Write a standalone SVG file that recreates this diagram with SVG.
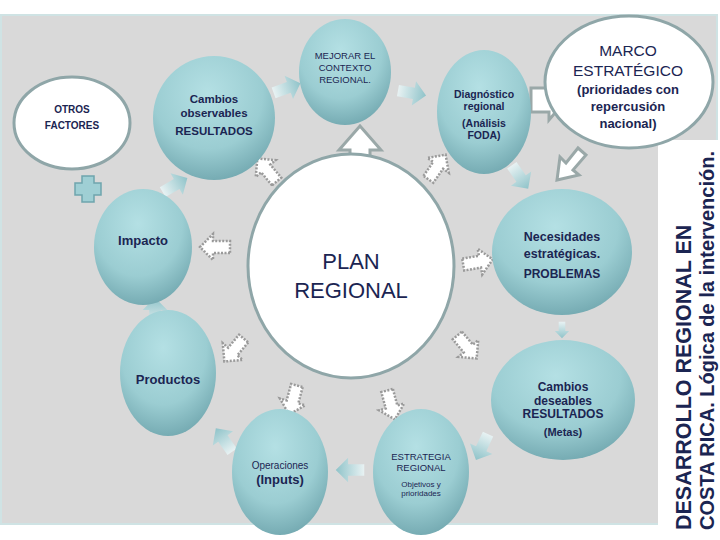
<svg xmlns="http://www.w3.org/2000/svg" width="720" height="540" viewBox="0 0 720 540">
<defs>
<radialGradient id="tg" cx="0.45" cy="0.3" r="0.75">
<stop offset="0" stop-color="#b4e0e4"/><stop offset="0.6" stop-color="#9bcdd2"/><stop offset="1" stop-color="#6fa5ad"/>
</radialGradient>
<linearGradient id="ag" x1="0" y1="0" x2="1" y2="0">
<stop offset="0" stop-color="#e8f2f3"/><stop offset="1" stop-color="#8fc3c9"/>
</linearGradient>
<path id="arr" d="M-15,-6 H2 V-13 L15,0 L2,13 V6 H-15 Z"/>
</defs>
<style>
.c{fill:url(#tg)}
.w{fill:#fff;stroke:#8fa6a8;stroke-width:3}
.da{fill:#fff;stroke:#9a9a9a;stroke-width:2.5;stroke-dasharray:2 1.5}
.ta{fill:url(#ag)}
.t{font-family:"Liberation Sans",Arial,sans-serif;fill:#1b2552;text-anchor:middle}
.b{font-weight:bold}
</style>
<rect x="0" y="0" width="720" height="540" fill="#fff"/>
<rect x="1" y="15" width="716" height="509" fill="#d9d9d9" stroke="#cfe3e4" stroke-width="2"/>
<rect x="658" y="140" width="62" height="400" fill="#fff"/>
<g id="connectors">
<use href="#arr" class="da" transform="translate(267,170) rotate(-130)"/>
<use href="#arr" class="da" transform="translate(437,167) rotate(-55)"/>
<use href="#arr" class="da" transform="translate(215,247) rotate(180)"/>
<use href="#arr" class="da" transform="translate(478,262) rotate(-10)"/>
<use href="#arr" class="da" transform="translate(234,350) rotate(130)"/>
<use href="#arr" class="da" transform="translate(467,347) rotate(50)"/>
<use href="#arr" class="da" transform="translate(293,400) rotate(105)"/>
<use href="#arr" class="da" transform="translate(391,405) rotate(75)"/>
<path d="M350,195 V150 H339 L360,126 L381,150 H370 V195 Z" fill="#fff" stroke="#9aa8a8" stroke-width="3"/>
<path d="M531,88 H549 V80 L566,100 L549,120 V112 H531 Z" fill="#fff" stroke="#9aa8a8" stroke-width="3"/>
<path d="M578,148 L566,163 L560,157 L557,180 L579,175 L573,170 L586,155 Z" fill="#fff" stroke="#9aa8a8" stroke-width="3"/>
<use href="#arr" class="ta" transform="translate(287,88) rotate(-20) scale(0.95)"/>
<use href="#arr" class="ta" transform="translate(412,93) rotate(10) scale(0.95)"/>
<use href="#arr" class="ta" transform="translate(520,177) rotate(55) scale(0.95)"/>
<use href="#arr" class="ta" transform="translate(562,330) rotate(90) scale(0.55)"/>
<use href="#arr" class="ta" transform="translate(482,447) rotate(115) scale(0.95)"/>
<use href="#arr" class="ta" transform="translate(350,470) rotate(180) scale(0.95)"/>
<use href="#arr" class="ta" transform="translate(224,440) rotate(-125) scale(0.95)"/>
<use href="#arr" class="ta" transform="translate(155,312) rotate(-90) scale(0.95)"/>
<use href="#arr" class="ta" transform="translate(175,185) rotate(-30) scale(0.95)"/>
<path d="M82,176 H94 V183 H101 V195 H94 V202 H82 V195 H75 V183 H82 Z" fill="#9fcfd4" stroke="#6fa5ad" stroke-width="1.5"/>
</g>
<g id="mejorar"><ellipse class="c" cx="345" cy="72" rx="46" ry="53"/>
<text class="t" font-size="9.5"><tspan x="345" y="59">MEJORAR EL</tspan><tspan x="345" y="71">CONTEXTO</tspan><tspan x="345" y="83">REGIONAL.</tspan></text></g>
<g id="otros"><ellipse class="w" cx="72" cy="123" rx="58" ry="46"/>
<text class="t b" font-size="10"><tspan x="72" y="113">OTROS</tspan><tspan x="72" y="129">FACTORES</tspan></text></g>
<g id="cambios-obs"><ellipse class="c" cx="214" cy="118" rx="61" ry="62"/>
<text class="t b" font-size="11.5"><tspan x="214" y="103">Cambios</tspan><tspan x="214" y="117">observables</tspan><tspan x="214" y="135">RESULTADOS</tspan></text></g>
<g id="diagnostico"><ellipse class="c" cx="484" cy="112" rx="47" ry="62"/>
<text class="t b" font-size="10.5"><tspan x="484" y="98">Diagnóstico</tspan><tspan x="484" y="110">regional</tspan><tspan x="484" y="127">(Análisis</tspan><tspan x="484" y="139">FODA)</tspan></text></g>
<g id="marco"><ellipse class="w" cx="629" cy="82" rx="84" ry="66"/>
<text class="t" font-size="15.5"><tspan x="628" y="56">MARCO</tspan><tspan x="628" y="76">ESTRATÉGICO</tspan></text>
<text class="t b" font-size="13"><tspan x="628" y="94">(prioridades con</tspan><tspan x="628" y="111">repercusión</tspan><tspan x="628" y="128">nacional)</tspan></text></g>
<g id="impacto"><ellipse class="c" cx="143" cy="247" rx="49" ry="58"/>
<text class="t b" font-size="13" x="143" y="245">Impacto</text></g>
<g id="plan"><ellipse class="w" cx="351" cy="266" rx="103" ry="112"/>
<text class="t" font-size="22"><tspan x="351" y="269">PLAN</tspan><tspan x="351" y="298">REGIONAL</tspan></text></g>
<g id="necesidades"><ellipse class="c" cx="562" cy="252" rx="70" ry="63"/>
<text class="t b" font-size="12.5"><tspan x="562" y="241">Necesidades</tspan><tspan x="562" y="258">estratégicas.</tspan><tspan x="562" y="278" font-size="12">PROBLEMAS</tspan></text></g>
<g id="productos"><ellipse class="c" cx="168" cy="373" rx="48" ry="63"/>
<text class="t b" font-size="13" x="168" y="384">Productos</text></g>
<g id="cambios-des"><ellipse class="c" cx="563" cy="400" rx="72" ry="60"/>
<text class="t b" font-size="12"><tspan x="563" y="391">Cambios</tspan><tspan x="563" y="405">deseables</tspan><tspan x="563" y="418">RESULTADOS</tspan><tspan x="563" y="436" font-size="11">(Metas)</tspan></text></g>
<g id="operaciones"><ellipse class="c" cx="280" cy="472" rx="48" ry="63"/>
<text class="t" font-size="10"><tspan x="280" y="469">Operaciones</tspan></text>
<text class="t b" font-size="13" x="280" y="484">(Inputs)</text></g>
<g id="estrategia"><ellipse class="c" cx="421" cy="472" rx="48" ry="63"/>
<text class="t" font-size="9.5"><tspan x="421" y="460">ESTRATEGIA</tspan><tspan x="421" y="471">REGIONAL</tspan></text>
<text class="t" font-size="8"><tspan x="421" y="487">Objetivos y</tspan><tspan x="421" y="496">prioridades</tspan></text></g>
<g id="titulo">
<text class="t b" font-size="21.5" transform="translate(691,530) rotate(-90)" style="text-anchor:start">DESARROLLO REGIONAL EN</text>
<text class="t b" font-size="20" transform="translate(714,530) rotate(-90)" style="text-anchor:start">COSTA RICA. Lógica de la intervención.</text>
</g>
</svg>
